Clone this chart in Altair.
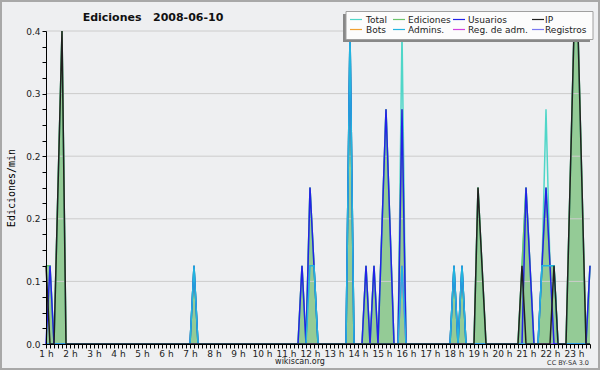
import altair as alt
import pandas as pd

# ---------------- data (10-minute slots starting at 1 h) ----------------
SERIES = ["Total", "Ediciones", "Usuarios", "IP", "Bots", "Admins.", "Reg. de adm.", "Registros"]
COLORS = ["#4fd6c8", "#6cc46c", "#2222e8", "#202020", "#f0a030", "#22b4e0", "#d040e0", "#7878f0"]

Y_LABEL_TICKS = [0.0, 0.08, 0.16, 0.24, 0.32, 0.4]

EDICIONES = [
    0.1, 0.1, 0, 0.2, 0.4, 0,      # 1 h
    0, 0, 0, 0, 0, 0,              # 2 h
    0, 0, 0, 0, 0, 0,              # 3 h
    0, 0, 0, 0, 0, 0,              # 4 h
    0, 0, 0, 0, 0, 0,              # 5 h
    0, 0, 0, 0, 0, 0,              # 6 h
    0, 0.1, 0, 0, 0, 0,            # 7 h
    0, 0, 0, 0, 0, 0,              # 8 h
    0, 0, 0, 0, 0, 0,              # 9 h
    0, 0, 0, 0, 0, 0,              # 10 h
    0, 0, 0, 0, 0.1, 0,            # 11 h
    0.2, 0.1, 0, 0, 0, 0,          # 12 h
    0, 0, 0, 0, 0.4, 0,            # 13 h
    0, 0, 0.1, 0, 0.1, 0,          # 14 h
    0.15, 0.3, 0.15, 0, 0, 0.3,    # 15 h
    0, 0, 0, 0, 0, 0,              # 16 h
    0, 0, 0, 0, 0, 0,              # 17 h
    0.1, 0, 0.1, 0, 0, 0,          # 18 h
    0.2, 0.1, 0, 0, 0, 0,          # 19 h
    0, 0, 0, 0, 0, 0.1,            # 20 h
    0.2, 0.1, 0, 0, 0.1, 0.2,      # 21 h
    0.1, 0.1, 0, 0, 0, 0.2,        # 22 h
    0.4, 0.4, 0.2, 0, 0.1,         # 23 h
]

TOTAL = [
    0.1, 0.1, 0, 0.2, 0.4, 0,
    0, 0, 0, 0, 0, 0,
    0, 0, 0, 0, 0, 0,
    0, 0, 0, 0, 0, 0,
    0, 0, 0, 0, 0, 0,
    0, 0, 0, 0, 0, 0,
    0, 0.1, 0, 0, 0, 0,
    0, 0, 0, 0, 0, 0,
    0, 0, 0, 0, 0, 0,
    0, 0, 0, 0, 0, 0,
    0, 0, 0, 0, 0.1, 0,
    0.2, 0.1, 0, 0, 0, 0,
    0, 0, 0, 0, 0.4, 0,
    0, 0, 0.1, 0, 0.1, 0,
    0.15, 0.3, 0.15, 0, 0, 0.4,
    0, 0, 0, 0, 0, 0,
    0, 0, 0, 0, 0, 0,
    0.1, 0, 0.1, 0, 0, 0,
    0.2, 0.1, 0, 0, 0, 0,
    0, 0, 0, 0, 0, 0.1,
    0.2, 0.1, 0, 0, 0.1, 0.3,
    0.1, 0.1, 0, 0, 0, 0.2,
    0.4, 0.4, 0.2, 0, 0.1,
]

USUARIOS = [
    0, 0.1, 0, 0, 0, 0,
    0, 0, 0, 0, 0, 0,
    0, 0, 0, 0, 0, 0,
    0, 0, 0, 0, 0, 0,
    0, 0, 0, 0, 0, 0,
    0, 0, 0, 0, 0, 0,
    0, 0.1, 0, 0, 0, 0,
    0, 0, 0, 0, 0, 0,
    0, 0, 0, 0, 0, 0,
    0, 0, 0, 0, 0, 0,
    0, 0, 0, 0, 0.1, 0,
    0.2, 0.1, 0, 0, 0, 0,
    0, 0, 0, 0, 0.4, 0,
    0, 0, 0.1, 0, 0.1, 0,
    0.15, 0.3, 0.15, 0, 0, 0.3,
    0, 0, 0, 0, 0, 0,
    0, 0, 0, 0, 0, 0,
    0.1, 0, 0.1, 0, 0, 0,
    0, 0, 0, 0, 0, 0,
    0, 0, 0, 0, 0, 0,
    0.2, 0.1, 0, 0, 0.1, 0.2,
    0.1, 0, 0, 0, 0, 0,
    0, 0, 0, 0, 0.1,
]

IP = [
    0.1, 0, 0, 0.2, 0.4, 0,
    0, 0, 0, 0, 0, 0,
    0, 0, 0, 0, 0, 0,
    0, 0, 0, 0, 0, 0,
    0, 0, 0, 0, 0, 0,
    0, 0, 0, 0, 0, 0,
    0, 0, 0, 0, 0, 0,
    0, 0, 0, 0, 0, 0,
    0, 0, 0, 0, 0, 0,
    0, 0, 0, 0, 0, 0,
    0, 0, 0, 0, 0, 0,
    0, 0, 0, 0, 0, 0,
    0, 0, 0, 0, 0, 0,
    0, 0, 0, 0, 0, 0,
    0, 0, 0, 0, 0, 0,
    0, 0, 0, 0, 0, 0,
    0, 0, 0, 0, 0, 0,
    0, 0, 0, 0, 0, 0,
    0.2, 0.1, 0, 0, 0, 0,
    0, 0, 0, 0, 0, 0.1,
    0, 0, 0, 0, 0, 0,
    0, 0.1, 0, 0, 0, 0.2,
    0.4, 0.4, 0.2, 0, 0,
]

ADMINS = [
    0, 0, 0, 0, 0, 0,
    0, 0, 0, 0, 0, 0,
    0, 0, 0, 0, 0, 0,
    0, 0, 0, 0, 0, 0,
    0, 0, 0, 0, 0, 0,
    0, 0, 0, 0, 0, 0,
    0, 0.1, 0, 0, 0, 0,
    0, 0, 0, 0, 0, 0,
    0, 0, 0, 0, 0, 0,
    0, 0, 0, 0, 0, 0,
    0, 0, 0, 0, 0, 0,
    0.1, 0.1, 0, 0, 0, 0,
    0, 0, 0, 0, 0.4, 0,
    0, 0, 0, 0, 0, 0,
    0, 0, 0, 0, 0, 0.1,
    0, 0, 0, 0, 0, 0,
    0, 0, 0, 0, 0, 0,
    0.1, 0, 0.1, 0, 0, 0,
    0, 0, 0, 0, 0, 0,
    0, 0, 0, 0, 0, 0,
    0, 0, 0, 0, 0.1, 0.1,
    0.1, 0.1, 0, 0, 0, 0,
    0, 0, 0, 0, 0,
]

REG_ADM = [0] * 89 + [0.1] + [0] * 47
REGISTROS = [0] * 137
BOTS = [0] * 137

VALUES = {
    "Total": TOTAL, "Ediciones": EDICIONES, "Usuarios": USUARIOS, "IP": IP,
    "Bots": BOTS, "Admins.": ADMINS, "Reg. de adm.": REG_ADM, "Registros": REGISTROS,
}

slots = [1 + k / 6 for k in range(len(EDICIONES))]
rows = []
for name in SERIES:
    for t, v in zip(slots, VALUES[name]):
        rows.append({"t": t, "serie": name, "v": v})
df = pd.DataFrame(rows)

FONT = "DejaVu Sans"
W, H = 544, 313
x_end = slots[-1]

x_scale = alt.Scale(domain=[1, x_end], nice=False, zero=False)
y_scale = alt.Scale(domain=[0, 0.4], nice=False)

x_axis = alt.Axis(
    values=slots, title=None, grid=False, tickSize=4, tickColor="#000",
    domainColor="#000", labelFont=FONT, labelFontSize=9, labelColor="#222",
    labelPadding=1, labelOverlap=False, labelFlush=False, zindex=1,
    labelExpr="abs(datum.value - round(datum.value)) < 0.01 ? round(datum.value) + ' h' : ''",
)
y_axis = alt.Axis(
    values=[k * 0.02 for k in range(21)], title="Ediciones/min", grid=False,
    tickSize=4, tickColor="#000", domainColor="#000", labelFont=FONT,
    labelFontSize=9, labelColor="#222", labelPadding=2, zindex=1,
    labelExpr="abs(datum.value/0.08 - round(datum.value/0.08)) < 0.001 ? format(datum.value, '.1f') : ''",
    titleFont="DejaVu Sans Mono", titleFontSize=10, titleFontWeight="normal",
    titleColor="#000", titlePadding=9,
)

color = alt.Color("serie:N", scale=alt.Scale(domain=SERIES, range=COLORS), legend=None)

base = alt.Chart(df)
X = alt.X("t:Q", scale=x_scale, axis=x_axis)
Y = alt.Y("v:Q", scale=y_scale, axis=y_axis)

area = base.transform_filter(alt.datum.serie == "Ediciones").mark_area(
    color="#94cb96", opacity=1
).encode(x=X, y=Y)

grid = alt.Chart(pd.DataFrame({"v": Y_LABEL_TICKS[1:]})).mark_rule(
    color="#cccccc", strokeWidth=1
).encode(y=Y)


def line(name, width=1.5):
    return base.transform_filter(alt.datum.serie == name).mark_line(
        strokeWidth=width
    ).encode(x=X, y=Y, color=color)


lines = [line(n) for n in ["Total", "Ediciones", "Bots", "Reg. de adm.", "Registros", "Usuarios", "Admins.", "IP"]]

one = pd.DataFrame({"a": [0]})

# ---------------- hand-made legend box (positions relative to plot origin) ----------------
LEG_SWATCH_X = [304, 347, 407, 486]   # left end of the swatch, per column
LEG_LABEL_X = [320, 362, 422, 499]    # label start, per column
LEG_ROW_Y = [-11.5, -1.5]             # swatch y, per row
legend_layers = [
    alt.Chart(one).mark_rect(color="#888888").encode(
        x=alt.value(297), x2=alt.value(544), y=alt.value(-17), y2=alt.value(11)),
    alt.Chart(one).mark_rect(fill="#fcfcfc", stroke="#a0a0a0", strokeWidth=1).encode(
        x=alt.value(300), x2=alt.value(547), y=alt.value(-19.5), y2=alt.value(8.5)),
]
for k, name in enumerate(SERIES):
    col, row = k % 4, k // 4
    legend_layers.append(
        alt.Chart(one).mark_rule(color=COLORS[k], strokeWidth=1.2).encode(
            x=alt.value(LEG_SWATCH_X[col]), x2=alt.value(LEG_SWATCH_X[col] + 12),
            y=alt.value(LEG_ROW_Y[row]))
    )
    legend_layers.append(
        alt.Chart(one).mark_text(
            text=name, font=FONT, fontSize=9, color="#222", align="left", baseline="middle"
        ).encode(x=alt.value(LEG_LABEL_X[col]), y=alt.value(LEG_ROW_Y[row]))
    )

frame = alt.Chart(one).mark_rect(filled=False, stroke="#a8a8a8", strokeWidth=2).encode(
    x=alt.value(-45), x2=alt.value(553), y=alt.value(-30), y2=alt.value(338)
)
title = alt.Chart(one).mark_text(
    text="Ediciones\u00a0\u00a0\u00a02008-06-10", font=FONT, fontSize=11, fontWeight="bold",
    color="#111", align="center", baseline="alphabetic"
).encode(x=alt.value(107), y=alt.value(-10))
site = alt.Chart(one).mark_text(
    text="wikiscan.org", font=FONT, fontSize=8, color="#222", align="center", baseline="alphabetic"
).encode(x=alt.value(254), y=alt.value(333))
lic = alt.Chart(one).mark_text(
    text="CC BY-SA 3.0", font=FONT, fontSize=6.5, color="#333", align="right", baseline="alphabetic"
).encode(x=alt.value(543), y=alt.value(334))

chart = alt.layer(area, grid, *lines, *legend_layers, frame, title, site, lic).properties(
    width=W, height=H,
    autosize=alt.AutoSizeParams(type="none"),
    padding={"left": 46, "top": 31, "right": 10, "bottom": 26},
    background="#eeeff1",
).configure_view(stroke=None)

chart.save("out.html", embed_options={"renderer": "svg", "actions": False})
